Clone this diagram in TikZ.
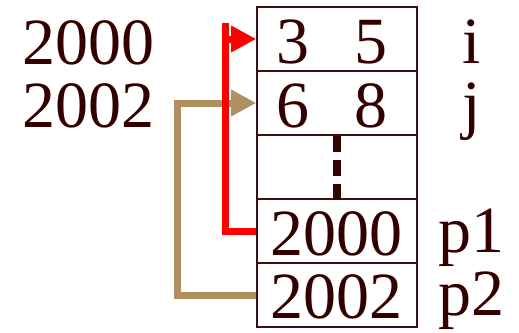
\documentclass[tikz,border=0pt]{standalone}
\usepackage{fontspec}
\setmainfont{Liberation Serif}
\usepackage{tikz}
\usetikzlibrary{positioning,arrows.meta,calc}
\definecolor{mmInk}{RGB}{51,0,0}
\definecolor{mmEdge}{RGB}{60,16,16}
\definecolor{mmRed}{RGB}{255,0,0}
\definecolor{mmTan}{RGB}{176,144,96}

\begin{document}
\begin{tikzpicture}[
  x=1pt, y=-1pt,
  font=\fontsize{66}{66}\selectfont,
  cell/.style={draw=mmEdge, line width=1.6pt, minimum width=160pt, minimum height=64pt, inner sep=0pt},
  txt/.style={text=mmInk, anchor=base, inner sep=0pt},
  ptr/.style={line width=7pt},
  tip/.style={-{Triangle[length=25pt, width=25pt]}},
]
\useasboundingbox (0,0) rectangle (519,332);
% memory cells
\node[cell] (r1) at (337,39) {};
\node[cell] (r2) at (337,103) {};
\node[cell] (r3) at (337,167) {};
\node[cell] (r4) at (337,231) {};
\node[cell] (r5) at (337,295) {};
% cell contents
\node[txt] (a3) at (293,63) {3};
\node[txt] (a5) at (371,63) {5};
\node[txt] (a6) at (293,127) {6};
\node[txt] (a8) at (371,127) {8};
\node[txt] (v1) at (336,255) {2000};
\node[txt] (v2) at (336,318) {2002};
% addresses and names
\node[txt] (ad1) at (88,64) {2000};
\node[txt] (ad2) at (88,127) {2002};
\node[txt] (ni) at (472,63) {i};
\node[txt] (nj) at (472,126) {j};
\node[txt] (np1) at (471,252) {p1};
\node[txt] (np2) at (471,315) {p2};
% dots
\coordinate (dtop) at ($(r3.north)+(0,2)$);
\draw[mmInk, line width=8pt, dash pattern=on 16pt off 8pt] (dtop) -- (r3.south);
% p2 -> j
\coordinate (tanx) at (177,0);
\draw[ptr, tip, mmTan] (r5.west) -- (r5.west -| tanx) |- (r2.west);
% p1 -> i
\coordinate (redtop) at (225,23);
\coordinate (redmid) at (225,39);
\draw[ptr, mmRed] (r4.west) -| (redtop);
\draw[ptr, tip, mmRed] (redmid) -- (r1.west);
\end{tikzpicture}
\end{document}
